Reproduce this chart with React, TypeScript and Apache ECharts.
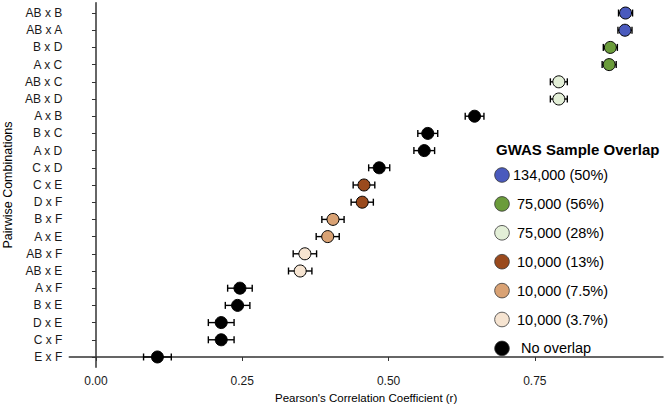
import React, { useEffect, useRef } from "react";
import * as echarts from "echarts";

// Pairwise combinations, listed top to bottom as in the chart
const categories: string[] = [
  "AB x B", "AB x A", "B x D", "A x C", "AB x C", "AB x D", "A x B",
  "B x C", "A x D", "C x D", "C x E", "D x F", "B x F", "A x E",
  "AB x F", "AB x E", "A x F", "B x E", "D x E", "C x F", "E x F",
];

// Pearson's r for each combination
const correlations: number[] = [
  0.905, 0.904, 0.879, 0.877, 0.791, 0.791, 0.647,
  0.567, 0.561, 0.484, 0.458, 0.455, 0.405, 0.396,
  0.357, 0.349, 0.246, 0.242, 0.214, 0.214, 0.105,
];

// Half-width of the error bar for each combination
const errorHalfWidths: number[] = [
  0.012, 0.012, 0.012, 0.012, 0.0145, 0.0145, 0.016,
  0.017, 0.0177, 0.018, 0.0185, 0.019, 0.019, 0.0197,
  0.020, 0.020, 0.021, 0.021, 0.022, 0.022, 0.0237,
];

// Index into overlapLabels for each combination
const overlapGroup: number[] = [
  0, 0, 1, 1, 2, 2, 6,
  6, 6, 6, 3, 3, 4, 4,
  5, 5, 6, 6, 6, 6, 6,
];

const overlapLabels: string[] = [
  "134,000 (50%)", "75,000 (56%)", "75,000 (28%)", "10,000 (13%)",
  "10,000 (7.5%)", "10,000 (3.7%)", "No overlap",
];

const overlapColors: string[] = [
  "#4a5abd", "#6b9c3b", "#e3efd7", "#9a4a1d", "#d9a274", "#f6e4d1", "#000000",
];

const xTicks: number[] = [0, 0.25, 0.5, 0.75];

const FONT = '"Liberation Sans", Arial, Helvetica, sans-serif';

export default function App() {
  const ref = useRef<HTMLDivElement>(null);

  useEffect(() => {
    if (!ref.current) return;
    const chart = echarts.init(ref.current, undefined, { renderer: "svg" });
    const n = categories.length;
    const yPos = (i: number) => n - 1 - i;

    const scatterSeries = overlapLabels.map((label, g) => ({
      type: "scatter",
      name: label,
      z: 5,
      symbol: "circle",
      symbolSize: 12,
      itemStyle: { color: overlapColors[g], borderColor: "#000", borderWidth: 1, opacity: 1 },
      emphasis: { disabled: true },
      data: categories
        .map((c, i) => ({ i, c }))
        .filter((d) => overlapGroup[d.i] === g)
        .map((d) => [correlations[d.i], yPos(d.i)]),
    }));

    const errorData = categories.map((c, i) => [
      yPos(i),
      correlations[i] - errorHalfWidths[i],
      correlations[i] + errorHalfWidths[i],
    ]);

    const errorSeries = {
      type: "custom",
      z: 3,
      encode: { x: [1, 2], y: 0 },
      data: errorData,
      renderItem: (params: any, api: any) => {
        const y = api.value(0);
        const p1 = api.coord([api.value(1), y]);
        const p2 = api.coord([api.value(2), y]);
        const h = 3.5;
        const style = { stroke: "#000", lineWidth: 1.4 };
        return {
          type: "group",
          children: [
            { type: "line", shape: { x1: p1[0], y1: p1[1], x2: p2[0], y2: p2[1] }, style },
            { type: "line", shape: { x1: p1[0], y1: p1[1] - h, x2: p1[0], y2: p1[1] + h }, style },
            { type: "line", shape: { x1: p2[0], y1: p2[1] - h, x2: p2[0], y2: p2[1] + h }, style },
          ],
        };
      },
    };

    // Legend drawn as graphic elements
    const legendX = 502;
    const legendY0 = 175;
    const legendStep = 28.9;
    const textOffsets = [11, 15, 15, 15, 15, 15, 19];
    const legendGraphics: any[] = [
      {
        type: "text",
        left: 496,
        top: 142,
        style: {
          text: "GWAS Sample Overlap",
          font: `bold 15px ${FONT}`,
          fill: "#000",
        },
      },
    ];
    overlapLabels.forEach((label, g) => {
      const cy = legendY0 + legendStep * g;
      legendGraphics.push({
        type: "circle",
        shape: { cx: legendX, cy, r: 7.3 },
        style: { fill: overlapColors[g], stroke: "#333", lineWidth: 0.8 },
      });
      legendGraphics.push({
        type: "text",
        x: legendX + textOffsets[g],
        y: cy,
        style: {
          text: label,
          font: `14.5px ${FONT}`,
          fill: "#000",
          verticalAlign: "middle",
          align: "left",
        },
      });
    });

    const option: any = {
      animation: false,
      backgroundColor: "#fff",
      textStyle: { fontFamily: FONT },
      grid: {
        left: 69.3,
        right: 1,
        top: 2.7,
        bottom: 40.7,
        containLabel: false,
        outerBoundsMode: "none",
      },
      xAxis: {
        type: "value",
        min: -0.0456,
        max: 0.969,
        splitLine: { show: false },
        axisLine: { show: true, lineStyle: { color: "#333", width: 1.5 } },
        axisTick: { show: true, length: 4, customValues: xTicks, lineStyle: { color: "#333", width: 1 } },
        axisLabel: {
          customValues: xTicks,
          formatter: (v: number) => v.toFixed(2),
          fontSize: 12,
          color: "#1a1a1a",
          margin: 8,
          fontFamily: FONT,
        },
        name: "Pearson's Correlation Coefficient (r)",
        nameLocation: "middle",
        nameGap: 25,
        nameTextStyle: { fontSize: 11.5, color: "#000", fontFamily: FONT },
      },
      yAxis: {
        type: "value",
        min: -0.6,
        max: n - 1 + 0.6,
        splitLine: { show: false },
        axisLine: { show: true, lineStyle: { color: "#333", width: 1.5 } },
        axisTick: {
          show: true,
          length: 4,
          customValues: categories.map((c, i) => yPos(i)),
          lineStyle: { color: "#333", width: 1 },
        },
        axisLabel: {
          customValues: categories.map((c, i) => yPos(i)),
          formatter: (v: number) => categories[n - 1 - Math.round(v)],
          fontSize: 12,
          color: "#1a1a1a",
          margin: 7,
          fontFamily: FONT,
        },
        name: "Pairwise Combinations",
        nameLocation: "middle",
        nameGap: 53,
        nameTextStyle: { fontSize: 12.5, color: "#000", fontFamily: FONT },
      },
      graphic: legendGraphics,
      series: [errorSeries, ...scatterSeries],
    };

    chart.setOption(option);
    return () => chart.dispose();
  }, []);

  return (
    <div
      ref={ref}
      style={{ position: "fixed", left: 0, top: 0, width: 664, height: 408, background: "#fff" }}
    />
  );
}
